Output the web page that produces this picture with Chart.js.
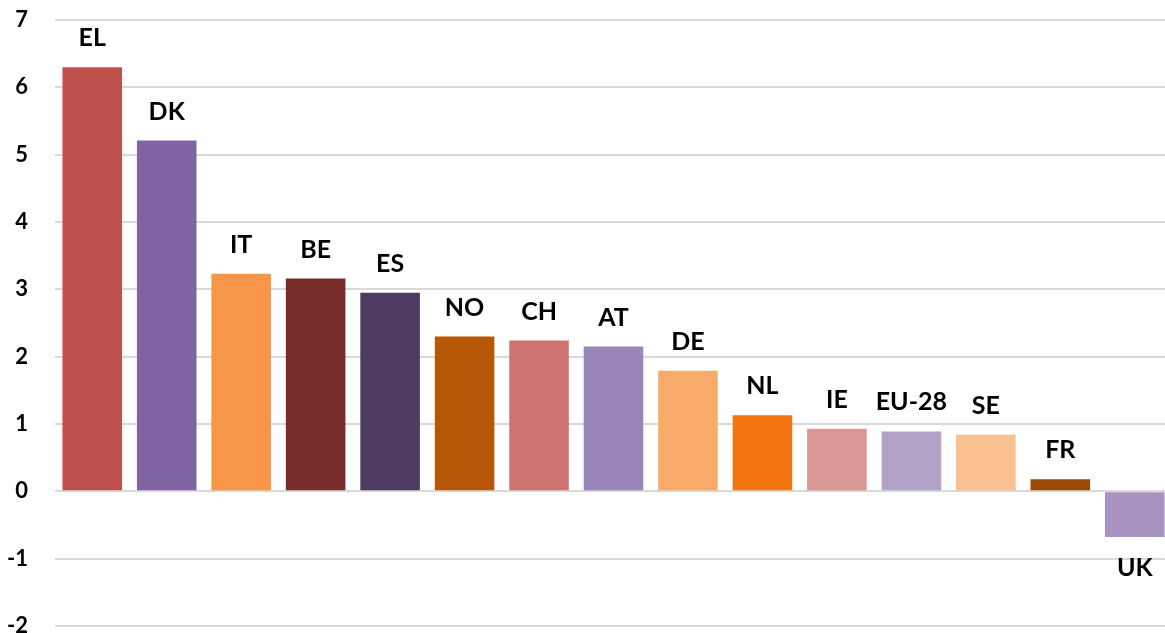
<!DOCTYPE html>
<html>
<head>
<meta charset="utf-8">
<script src="https://cdn.jsdelivr.net/npm/chart.js@4"></script>
<style>
  html, body { margin: 0; padding: 0; background: #fff; overflow: hidden; }
  /* slightly wider than the window: the original crop cuts the plot's right edge */
  #wrap { width: 1172px; height: 633px; position: relative; }
</style>
</head>
<body>
<div id="wrap"><canvas id="chart"></canvas></div>
<script>
const countries = ["EL", "DK", "IT", "BE", "ES", "NO", "CH", "AT", "DE", "NL", "IE", "EU-28", "SE", "FR", "UK"];
const values = [6.30, 5.21, 3.23, 3.16, 2.95, 2.30, 2.24, 2.15, 1.79, 1.13, 0.93, 0.89, 0.84, 0.18, -0.68];
const barColors = ["#C0504D", "#8064A2", "#F79646", "#772C2A", "#4D3B62", "#B65708", "#CD7371", "#9A85B8",
  "#F9AB6B", "#F27511", "#D99694", "#B3A2C7", "#FAC090", "#984807", "#A793C2"];

const FONT = "Lato, 'Open Sans', sans-serif";

// country names above (or below) each bar
const barLabels = {
  id: "barLabels",
  afterDatasetsDraw(chart) {
    const ctx = chart.ctx;
    const meta = chart.getDatasetMeta(0);
    ctx.save();
    ctx.font = "bold 25px " + FONT;
    ctx.fillStyle = "#000";
    ctx.textAlign = "center";
    ctx.textBaseline = "middle";
    meta.data.forEach((bar, i) => {
      const y = values[i] >= 0 ? bar.y - 29 : bar.y + 31;
      ctx.fillText(countries[i], bar.x, y);
    });
    ctx.restore();
  }
};

new Chart(document.getElementById("chart"), {
  type: "bar",
  data: {
    labels: countries,
    datasets: [{
      data: values,
      backgroundColor: barColors,
      borderWidth: 0,
      barPercentage: 0.8,
      categoryPercentage: 1.0
    }]
  },
  options: {
    responsive: true,
    maintainAspectRatio: false,
    animation: false,
    layout: { padding: { top: 20, right: 0, bottom: 7, left: 0 } },
    plugins: {
      legend: { display: false },
      tooltip: { enabled: false }
    },
    scales: {
      x: {
        display: false
      },
      y: {
        min: -2,
        max: 7,
        afterFit(scale) {
          scale.width = 55;
          // tick padding is horizontal only here
          scale.paddingTop = 0;
          scale.paddingBottom = 0;
        },
        ticks: {
          stepSize: 1,
          padding: 27,
          color: "#000",
          font: { family: FONT, size: 22, weight: "bold" }
        },
        grid: {
          color: "#D9D9D9",
          lineWidth: 2,
          drawTicks: false
        },
        border: { display: false }
      }
    }
  },
  plugins: [barLabels]
});
</script>
</body>
</html>
